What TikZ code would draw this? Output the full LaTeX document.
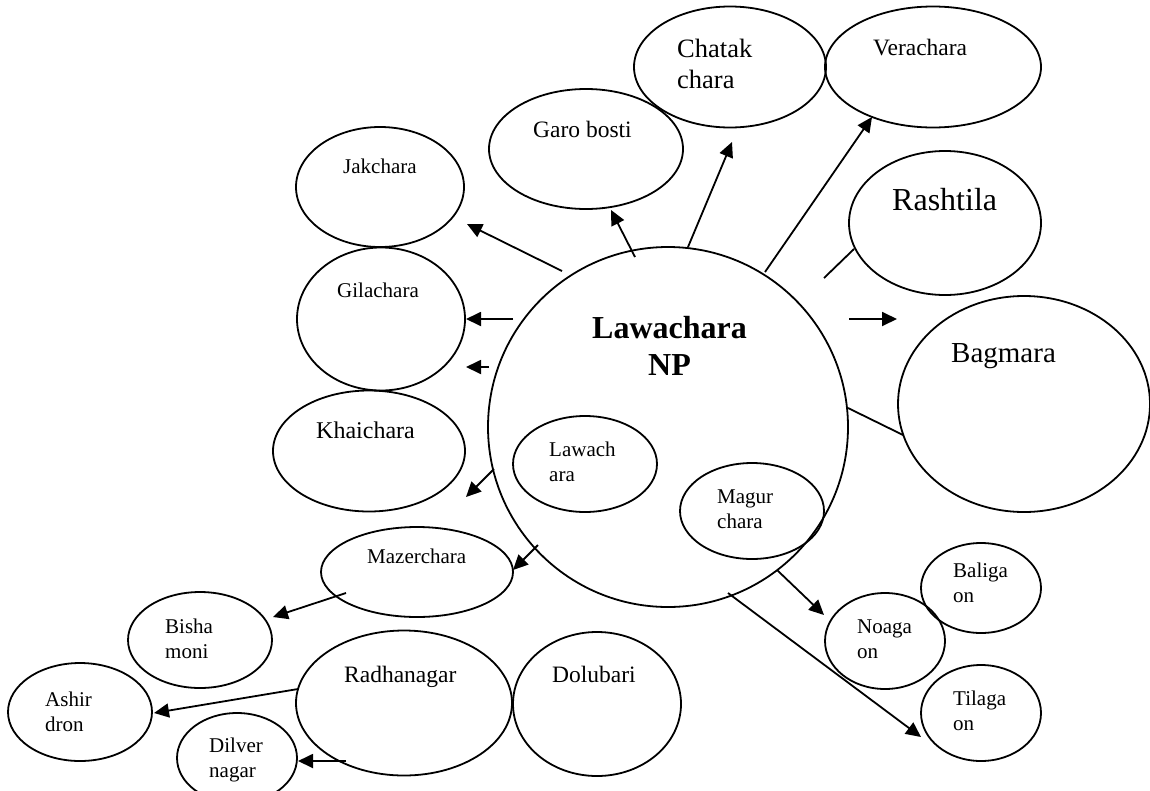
\documentclass[tikz,border=0pt]{standalone}
\usepackage{fontspec}
\setmainfont{Liberation Serif}
\usetikzlibrary{shapes.geometric,arrows.meta}
\tikzset{
  place/.style={draw, ellipse, line width=1.8pt, inner sep=0pt},
  lbl/.style={anchor=base west, inner sep=0pt, align=left},
  fsmall/.style={font=\fontsize{21}{25}\selectfont},
  fmid/.style={font=\fontsize{23.5}{28}\selectfont},
  arr/.style={line width=1.8pt, -{Triangle[length=15pt,width=14pt]}},
  link/.style={line width=1.8pt},
}
\begin{document}
\begin{tikzpicture}[x=1pt,y=-1pt]
\useasboundingbox (0,0) rectangle (1150,790);
% ellipses
\node[place, minimum width=360pt, minimum height=360pt] (main) at (668,427) {};
\node[place, minimum width=168pt, minimum height=120pt] (jak) at (380,187) {};
\node[place, minimum width=194pt, minimum height=120pt] (garo) at (586,149) {};
\node[place, minimum width=192pt, minimum height=121pt] (chatak) at (730,67) {};
\node[place, minimum width=216pt, minimum height=121pt] (vera) at (933,67) {};
\node[place, minimum width=192pt, minimum height=144pt] (rash) at (945,223) {};
\node[place, minimum width=252pt, minimum height=216pt] (bag) at (1024,404) {};
\node[place, minimum width=168pt, minimum height=143pt] (gila) at (381,319) {};
\node[place, minimum width=192pt, minimum height=121pt] (khai) at (369,451) {};
\node[place, minimum width=144pt, minimum height=96pt] (lawin) at (585,464) {};
\node[place, minimum width=144pt, minimum height=96pt] (magur) at (752,511) {};
\node[place, minimum width=192pt, minimum height=90pt] (mazer) at (417,572) {};
\node[place, minimum width=144pt, minimum height=96pt] (bisha) at (200,640) {};
\node[place, minimum width=144pt, minimum height=98pt] (ashir) at (80,712) {};
\node[place, minimum width=120pt, minimum height=90pt] (dilver) at (237,758) {};
\node[place, minimum width=216pt, minimum height=145pt] (radha) at (404,703) {};
\node[place, minimum width=168pt, minimum height=144pt] (dolu) at (597,704) {};
\node[place, minimum width=120pt, minimum height=96pt] (noaga) at (885,641) {};
\node[place, minimum width=120pt, minimum height=90pt] (baliga) at (981,588) {};
\node[place, minimum width=120pt, minimum height=96pt] (tilaga) at (981,713) {};
% texts (two-line texts are placed by the baseline of their last line)
\node[anchor=base, inner sep=0pt, align=center, font=\bfseries\fontsize{32}{37}\selectfont] (tmain) at (669.5,375) {Lawachara\\NP};
\node[lbl, fsmall] (tjak) at (343,173) {Jakchara};
\node[lbl, fmid] (tgaro) at (533,137) {Garo bosti};
\node[lbl, font=\fontsize{26.5}{31}\selectfont] (tchatak) at (677,88) {Chatak\\chara};
\node[lbl, fmid] (tvera) at (873,55) {Verachara};
\node[lbl, font=\fontsize{32}{37}\selectfont] (trash) at (892,210) {Rashtila};
\node[lbl, font=\fontsize{29}{34}\selectfont] (tbag) at (951,362) {Bagmara};
\node[lbl, fsmall] (tgila) at (337,297) {Gilachara};
\node[lbl, font=\fontsize{24}{28}\selectfont] (tkhai) at (316,438) {Khaichara};
\node[lbl, fsmall] (tlawin) at (549,481) {Lawach\\ara};
\node[lbl, fsmall] (tmagur) at (717,528) {Magur\\chara};
\node[lbl, fsmall] (tmazer) at (367,563) {Mazerchara};
\node[lbl, fsmall] (tbisha) at (165,658) {Bisha\\moni};
\node[lbl, fsmall] (tashir) at (45,731) {Ashir\\dron};
\node[lbl, fsmall] (tdilver) at (209,777) {Dilver\\nagar};
\node[lbl, fmid] (tradha) at (344,682) {Radhanagar};
\node[lbl, fmid] (tdolu) at (552,682) {Dolubari};
\node[lbl, fsmall] (tnoaga) at (857,658) {Noaga\\on};
\node[lbl, fsmall] (tbaliga) at (953,602) {Baliga\\on};
\node[lbl, fsmall] (ttilaga) at (953,730) {Tilaga\\on};
% connector end points
\coordinate (s1) at (562,271); \coordinate (e1) at (467,224);
\coordinate (s2) at (635,257); \coordinate (e2) at (611,210);
\coordinate (s3) at (688,247); \coordinate (e3) at (732,142);
\coordinate (s4) at (765,272); \coordinate (e4) at (872,117);
\coordinate (s5) at (824,278); \coordinate (e5) at (854,249);
\coordinate (s6) at (849,319); \coordinate (e6) at (897,319);
\coordinate (s7) at (848,408); \coordinate (e7) at (903,435);
\coordinate (s8) at (513,319); \coordinate (e8) at (466,319);
\coordinate (s9) at (489,367); \coordinate (e9) at (466,367);
\coordinate (s10) at (494,469); \coordinate (e10) at (466,497);
\coordinate (s11) at (538,545); \coordinate (e11) at (513,570);
\coordinate (s12) at (346,593); \coordinate (e12) at (273,617);
\coordinate (s13) at (298,689); \coordinate (e13) at (154,713);
\coordinate (s14) at (346,761); \coordinate (e14) at (298,761);
\coordinate (s15) at (777,570); \coordinate (e15) at (824,615);
\coordinate (s16) at (728,593); \coordinate (e16) at (921,737);
% connectors
\draw[arr] (s1) -- (e1);
\draw[arr] (s2) -- (e2);
\draw[arr] (s3) -- (e3);
\draw[arr] (s4) -- (e4);
\draw[link] (s5) -- (e5);
\draw[arr] (s6) -- (e6);
\draw[link] (s7) -- (e7);
\draw[arr] (s8) -- (e8);
\draw[arr] (s9) -- (e9);
\draw[arr] (s10) -- (e10);
\draw[arr] (s11) -- (e11);
\draw[arr] (s12) -- (e12);
\draw[arr] (s13) -- (e13);
\draw[arr] (s14) -- (e14);
\draw[arr] (s15) -- (e15);
\draw[arr] (s16) -- (e16);
\end{tikzpicture}
\end{document}
